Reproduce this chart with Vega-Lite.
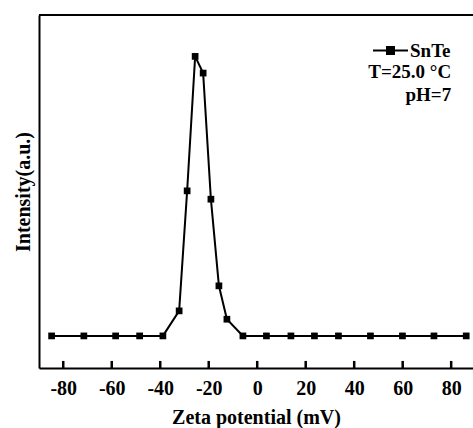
{
  "$schema": "https://vega.github.io/schema/vega-lite/v6.json",
  "width": 434,
  "height": 353,
  "autosize": "none",
  "padding": {"left": 39, "top": 15, "right": 0, "bottom": 60},
  "background": "white",
  "config": {
    "view": {"stroke": null},
    "font": "Liberation Serif"
  },
  "datasets": {
    "zeta": [
      {"zeta": -84.8, "intensity": 0, "series": "SnTe"},
      {"zeta": -71.5, "intensity": 0, "series": "SnTe"},
      {"zeta": -58.4, "intensity": 0, "series": "SnTe"},
      {"zeta": -48.5, "intensity": 0, "series": "SnTe"},
      {"zeta": -38.9, "intensity": 0, "series": "SnTe"},
      {"zeta": -32.2, "intensity": 7.8, "series": "SnTe"},
      {"zeta": -28.9, "intensity": 45.2, "series": "SnTe"},
      {"zeta": -25.6, "intensity": 87.1, "series": "SnTe"},
      {"zeta": -22.3, "intensity": 81.9, "series": "SnTe"},
      {"zeta": -19.1, "intensity": 42.6, "series": "SnTe"},
      {"zeta": -15.8, "intensity": 15.6, "series": "SnTe"},
      {"zeta": -12.5, "intensity": 5.2, "series": "SnTe"},
      {"zeta": -5.9, "intensity": 0, "series": "SnTe"},
      {"zeta": 3.8, "intensity": 0, "series": "SnTe"},
      {"zeta": 13.9, "intensity": 0, "series": "SnTe"},
      {"zeta": 23.6, "intensity": 0, "series": "SnTe"},
      {"zeta": 33.5, "intensity": 0, "series": "SnTe"},
      {"zeta": 46.7, "intensity": 0, "series": "SnTe"},
      {"zeta": 59.9, "intensity": 0, "series": "SnTe"},
      {"zeta": 72.9, "intensity": 0, "series": "SnTe"},
      {"zeta": 86.2, "intensity": 0, "series": "SnTe"}
    ]
  },
  "layer": [
    {"data": {"name": "zeta"},
      "mark": {"type": "line", "strokeWidth": 2},
      "encoding": {
        "x": {"field": "zeta", "type": "quantitative", "scale": {"domain": [-90, 89], "nice": false, "zero": false},
          "axis": {"title": "Zeta potential (mV)", "values": [-80, -60, -40, -20, 0, 20, 40, 60, 80], "labelExpr": "'' + datum.value", "domain": true, "domainColor": "black", "domainWidth": 2, "ticks": false, "grid": false, "labelPadding": 10, "titlePadding": 9, "labelFlush": false, "labelFont": "Liberation Serif", "labelFontWeight": "bold", "labelFontSize": 20, "labelColor": "black", "titleFont": "Liberation Serif", "titleFontWeight": "bold", "titleFontSize": 20, "titleColor": "black"}},
        "y": {"field": "intensity", "type": "quantitative", "scale": {"domain": [-10, 100], "nice": false, "zero": false},
          "axis": {"title": "Intensity(a.u.)", "labels": false, "ticks": false, "grid": false, "domainColor": "black", "domainWidth": 2, "titlePadding": 6, "titleFont": "Liberation Serif", "titleFontWeight": "bold", "titleFontSize": 20, "titleColor": "black"}},
        "color": {"field": "series", "type": "nominal", "scale": {"range": ["black"]},
          "legend": {"title": null, "orient": "none", "legendX": 333, "legendY": 17, "symbolType": "M-1,0L1,0M-0.2,-0.2L0.2,-0.2L0.2,0.2L-0.2,0.2Z", "symbolSize": 1225, "symbolStrokeWidth": 2, "symbolFillColor": "black", "labelFont": "Liberation Serif", "labelFontWeight": "bold", "labelFontSize": 19, "labelColor": "black", "labelOffset": 1}}}},
    {"data": {"name": "zeta"},
      "mark": {"type": "point", "shape": "square", "filled": true, "size": 45, "opacity": 1},
      "encoding": {
        "x": {"field": "zeta", "type": "quantitative"},
        "y": {"field": "intensity", "type": "quantitative"},
        "color": {"field": "series", "type": "nominal"}}},
    {"data": {"values": [{"tick": -80}, {"tick": -60}, {"tick": -40}, {"tick": -20}, {"tick": 0}, {"tick": 20}, {"tick": 40}, {"tick": 60}, {"tick": 80}]},
      "mark": {"type": "rule", "stroke": "black", "strokeWidth": 2.5, "opacity": 1},
      "encoding": {"x": {"field": "tick", "type": "quantitative"}, "y": {"datum": -10, "type": "quantitative"}, "y2": {"datum": -7.8}}},
    {"data": {"values": [{"note": "top"}]},
      "mark": {"type": "rule", "color": "black", "strokeWidth": 2}, "encoding": {"y": {"datum": 100, "type": "quantitative"}}},
    {"data": {"values": [{"note": "T=25.0 °C"}]},
      "mark": {"type": "text", "align": "right", "baseline": "middle", "font": "Liberation Serif", "fontWeight": "bold", "fontSize": 19, "color": "black"},
      "encoding": {"x": {"datum": 80, "type": "quantitative"}, "y": {"datum": 82.3, "type": "quantitative"}, "text": {"field": "note"}}},
    {"data": {"values": [{"note": "pH=7"}]},
      "mark": {"type": "text", "align": "right", "baseline": "middle", "font": "Liberation Serif", "fontWeight": "bold", "fontSize": 19, "color": "black"},
      "encoding": {"x": {"datum": 80, "type": "quantitative"}, "y": {"datum": 75.2, "type": "quantitative"}, "text": {"field": "note"}}}
  ]
}
